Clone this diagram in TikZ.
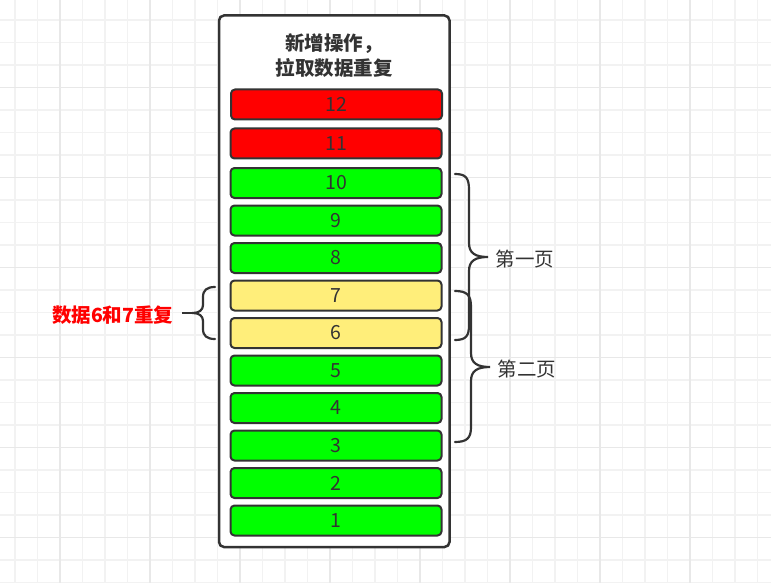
\documentclass[tikz,border=0pt]{standalone}
\usepackage{fontspec}
\setmainfont{Noto Sans CJK SC}
\definecolor{ink}{HTML}{333333}
\definecolor{gmin}{HTML}{F2F2F2}
\definecolor{gmaj}{HTML}{E8E8E8}
\definecolor{bgreen}{HTML}{00FF00}
\definecolor{bred}{HTML}{FF0000}
\definecolor{byellow}{HTML}{FFEE7A}
\begin{document}
\begin{tikzpicture}[x=1pt,y=-1pt,
  bar/.style={draw=ink,line width=2pt,rounded corners=4pt,minimum width=211pt,minimum height=30pt,inner sep=0pt,font=\fontsize{19.5}{21}\selectfont,text=ink},
  brace/.style={draw=ink,line width=2.2pt,line cap=round},
  lab/.style={font=\fontsize{19.5}{21}\selectfont,text=ink,inner sep=0pt,anchor=west}]
\useasboundingbox (0,0) rectangle (771,583);
\fill[white] (0,0) rectangle (771,583);
% grid
\foreach \i in {0,...,33} \draw[gmin,line width=1.2pt] ({15+22.5*\i},0) -- ({15+22.5*\i},583);
\foreach \j in {1,...,26} \draw[gmin,line width=1.2pt] (0,{-2.5+22.5*\j}) -- (771,{-2.5+22.5*\j});
\foreach \i in {0,...,7} \draw[gmaj,line width=1.2pt] ({60+90*\i},0) -- ({60+90*\i},583);
\foreach \j in {1,...,6} \draw[gmaj,line width=1.2pt] (0,{-2.5+90*\j}) -- (771,{-2.5+90*\j});
% container
\draw[ink,fill=white,line width=2.5pt,rounded corners=5pt] (219,15.5) rectangle (449.5,547);
\node[font=\fontsize{19.5}{25}\selectfont\bfseries,text=ink,align=center] (title) at (334,55.5) {新增操作，\\拉取数据重复};
% bars
\node[bar,fill=bred] (b12) at (336.5,104.5) {12};
\node[bar,fill=bred] (b11) at (336,143.5) {11};
\foreach \k/\c in {10/bgreen,9/bgreen,8/bgreen,7/byellow,6/byellow,5/bgreen,4/bgreen,3/bgreen,2/bgreen,1/bgreen}
  \node[bar,fill=\c] (b\k) at (336,{520.5-37.5*(\k-1)}) {\k};
% right braces
\coordinate (t1) at (488,257);
\draw[brace] (455,174) .. controls (466,174) and (469,178) .. (469,190) -- (469,243)
  .. controls (469,253) and (475,257) .. (t1)
  .. controls (475,257) and (469,261) .. (469,271) -- (469,325)
  .. controls (469,336) and (466,340) .. (455,340);
\coordinate (t2) at (490,367);
\draw[brace] (455,291) .. controls (467,291) and (471,295) .. (471,307) -- (471,353)
  .. controls (471,363) and (477,367) .. (t2)
  .. controls (477,367) and (471,371) .. (471,381) -- (471,427)
  .. controls (471,438) and (467,442) .. (455,442);
\node[lab] (p1) at (495.5,259) {第一页};
\node[lab] (p2) at (497.5,369) {第二页};
% left brace
\coordinate (t3) at (193,313);
\coordinate (t3e) at (182,313);
\draw[brace] (215,287) .. controls (207,287) and (203,290) .. (203,297) -- (203,305)
  .. controls (203,310) and (199,313) .. (t3)
  .. controls (199,313) and (203,316) .. (203,321) -- (203,329)
  .. controls (203,336) and (207,339) .. (215,339);
\draw[brace,line cap=butt] (t3) -- (t3e);
\node[font=\fontsize{19.5}{21}\selectfont\bfseries,text=bred,inner sep=0pt,anchor=east] (dup) at (173.5,315) {数据6和7重复};
\end{tikzpicture}
\end{document}
